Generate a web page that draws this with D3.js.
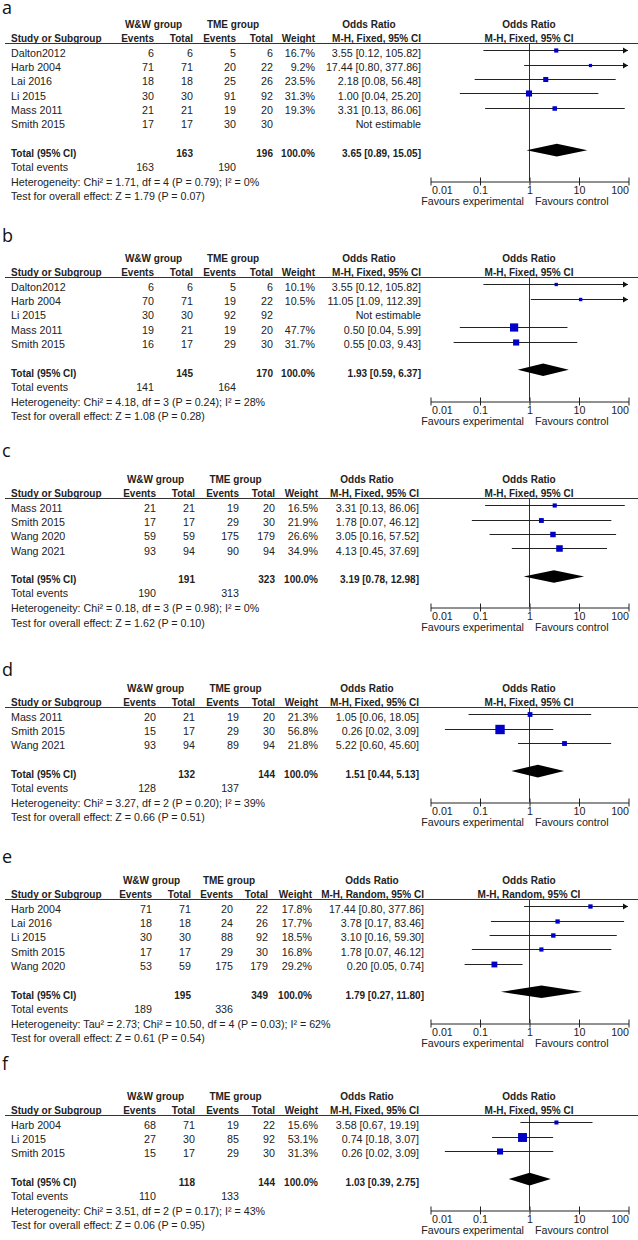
<!DOCTYPE html>
<html>
<head>
<meta charset="utf-8">
<script src="https://cdn.jsdelivr.net/npm/d3@7"></script>
<style>
  html, body { margin: 0; padding: 0; background: #fff; }
  svg { display: block; }
  .txt  { font-family: "Liberation Sans", Arial, sans-serif; font-size: 10.7px; fill: #222; }
  .bold { font-family: "Liberation Sans", Arial, sans-serif; font-size: 10px; font-weight: bold; fill: #222; }
  .letter { font-family: "Open Sans", "DejaVu Sans", sans-serif; font-size: 18px; fill: #111; }
</style>
</head>
<body>
<script>
// ── Data ──────────────────────────────────────────────────────────────────────

const panelLetters = ["a", "b", "c", "d", "e", "f"];
const methods = ["Fixed", "Fixed", "Fixed", "Fixed", "Random", "Fixed"];

const studies = [
  ["Dalton2012", "Harb 2004", "Lai 2016", "Li 2015", "Mass 2011", "Smith 2015"],
  ["Dalton2012", "Harb 2004", "Li 2015", "Mass 2011", "Smith 2015"],
  ["Mass 2011", "Smith 2015", "Wang 2020", "Wang 2021"],
  ["Mass 2011", "Smith 2015", "Wang 2021"],
  ["Harb 2004", "Lai 2016", "Li 2015", "Smith 2015", "Wang 2020"],
  ["Harb 2004", "Li 2015", "Smith 2015"]
];
const wwEvents = [
  [6, 71, 18, 30, 21, 17], [6, 70, 30, 19, 16], [21, 17, 59, 93],
  [20, 15, 93], [71, 18, 30, 17, 53], [68, 27, 15]
];
const wwTotals = [
  [6, 71, 18, 30, 21, 17], [6, 71, 30, 21, 17], [21, 17, 59, 94],
  [21, 17, 94], [71, 18, 30, 17, 59], [71, 30, 17]
];
const tmeEvents = [
  [5, 20, 25, 91, 19, 30], [5, 19, 92, 19, 29], [19, 29, 175, 90],
  [19, 29, 89], [20, 24, 88, 29, 175], [19, 85, 29]
];
const tmeTotals = [
  [6, 22, 26, 92, 20, 30], [6, 22, 92, 20, 30], [20, 30, 179, 94],
  [20, 30, 94], [22, 26, 92, 30, 179], [22, 92, 30]
];
// null = not estimable
const weights = [
  [16.7, 9.2, 23.5, 31.3, 19.3, null], [10.1, 10.5, null, 47.7, 31.7],
  [16.5, 21.9, 26.6, 34.9], [21.3, 56.8, 21.8],
  [17.8, 17.7, 18.5, 16.8, 29.2], [15.6, 53.1, 31.3]
];
const orEst = [
  [3.55, 17.44, 2.18, 1.00, 3.31, null], [3.55, 11.05, null, 0.50, 0.55],
  [3.31, 1.78, 3.05, 4.13], [1.05, 0.26, 5.22],
  [17.44, 3.78, 3.10, 1.78, 0.20], [3.58, 0.74, 0.26]
];
const orLow = [
  [0.12, 0.80, 0.08, 0.04, 0.13, null], [0.12, 1.09, null, 0.04, 0.03],
  [0.13, 0.07, 0.16, 0.45], [0.06, 0.02, 0.60],
  [0.80, 0.17, 0.16, 0.07, 0.05], [0.67, 0.18, 0.02]
];
const orHigh = [
  [105.82, 377.86, 56.48, 25.20, 86.06, null], [105.82, 112.39, null, 5.99, 9.43],
  [86.06, 46.12, 57.52, 37.69], [18.05, 3.09, 45.60],
  [377.86, 83.46, 59.30, 46.12, 0.74], [19.19, 3.07, 3.09]
];

const totalWW  = [163, 145, 191, 132, 195, 118];
const totalTME = [196, 170, 323, 144, 349, 144];
const pooledOR   = [3.65, 1.93, 3.19, 1.51, 1.79, 1.03];
const pooledLow  = [0.89, 0.59, 0.78, 0.44, 0.27, 0.39];
const pooledHigh = [15.05, 6.37, 12.98, 5.13, 11.80, 2.75];
const eventsWW  = [163, 141, 190, 128, 189, 110];
const eventsTME = [190, 164, 313, 137, 336, 133];
const heterogeneity = [
  "Heterogeneity: Chi² = 1.71, df = 4 (P = 0.79); I² = 0%",
  "Heterogeneity: Chi² = 4.18, df = 3 (P = 0.24); I² = 28%",
  "Heterogeneity: Chi² = 0.18, df = 3 (P = 0.98); I² = 0%",
  "Heterogeneity: Chi² = 3.27, df = 2 (P = 0.20); I² = 39%",
  "Heterogeneity: Tau² = 2.73; Chi² = 10.50, df = 4 (P = 0.03); I² = 62%",
  "Heterogeneity: Chi² = 3.51, df = 2 (P = 0.17); I² = 43%"
];
const overallEffect = [
  "Test for overall effect: Z = 1.79 (P = 0.07)",
  "Test for overall effect: Z = 1.08 (P = 0.28)",
  "Test for overall effect: Z = 1.62 (P = 0.10)",
  "Test for overall effect: Z = 0.66 (P = 0.51)",
  "Test for overall effect: Z = 0.61 (P = 0.54)",
  "Test for overall effect: Z = 0.06 (P = 0.95)"
];

const tickVals   = [0.01, 0.1, 1, 10, 100];
const tickLabels = ["0.01", "0.1", "1", "10", "100"];

// ── Layout ────────────────────────────────────────────────────────────────────

const W = 638, H = 1240;
const panelRule = [43, 277, 498, 707, 899, 1115];   // y of header underline
const letterY   = [14, 242, 457, 676, 863, 1070];
const ROW = 14.35;

// column right edges (panels c and e sit slightly differently in the source)
const baseCol = { wwE: 154, wwN: 193, tmeE: 236, tmeN: 273, weight: 315, or: 421 };
const colShift = [
  {}, {},
  { wwE: 2, wwN: 2, tmeE: 3, tmeN: 2, weight: 3, or: -2 },
  { wwE: 2, wwN: 2, tmeE: 3, tmeN: 2, weight: 3, or: -2 },
  { wwE: -2, wwN: -2, tmeE: -3, tmeN: -5, weight: -3, or: 3 },
  { wwE: 2, wwN: 2, tmeE: 3, tmeN: 2, weight: 3, or: -2 }
];
const STUDY_X = 11;

const x = d3.scaleLog().domain([0.01, 100]).range([430, 628]);
const boxSize = d3.scaleLinear().domain([0, 100]).range([2, 15]);

const svg = d3.select("body").append("svg")
  .attr("width", W).attr("height", H)
  .attr("viewBox", `0 0 ${W} ${H}`);

svg.append("rect").attr("width", W).attr("height", H).attr("fill", "#fff");

const fmt2 = d3.format(".2f");
const ciText = (e, l, h) => `${fmt2(e)} [${fmt2(l)}, ${fmt2(h)}]`;
const crisp = v => Math.round(v) + 0.5;

function txt(g, cls, xPos, yPos, s, anchor = "end") {
  return g.append("text").attr("class", cls)
    .attr("x", xPos).attr("y", yPos)
    .attr("text-anchor", anchor).text(s);
}

panelLetters.forEach((letter, p) => {
  const g = svg.append("g").attr("class", "panel-" + letter);
  const U = panelRule[p];
  const n = studies[p].length;
  const method = `M-H, ${methods[p]}, 95% CI`;
  const col = {};
  Object.keys(baseCol).forEach(k => { col[k] = baseCol[k] + (colShift[p][k] || 0); });

  svg.append("text").attr("class", "letter").attr("x", 2).attr("y", letterY[p]).text(letter);

  // header
  const h1 = U - 14.7, h2 = U - 1.5;
  txt(g, "bold", (col.wwE + col.wwN) / 2 - 20, h1, "W&W group", "middle");
  txt(g, "bold", (col.tmeE + col.tmeN) / 2 - 21.5, h1, "TME group", "middle");
  txt(g, "bold", col.or - 52, h1, "Odds Ratio", "middle");
  txt(g, "bold", x(1), h1, "Odds Ratio", "middle");
  txt(g, "bold", STUDY_X, h2, "Study or Subgroup", "start");
  txt(g, "bold", col.wwE, h2, "Events");
  txt(g, "bold", col.wwN, h2, "Total");
  txt(g, "bold", col.tmeE, h2, "Events");
  txt(g, "bold", col.tmeN, h2, "Total");
  txt(g, "bold", col.weight, h2, "Weight");
  txt(g, "bold", col.or, h2, method);
  txt(g, "bold", x(1), h2, method, "middle");

  g.append("line")
    .attr("x1", 5).attr("x2", W).attr("y1", crisp(U)).attr("y2", crisp(U))
    .attr("stroke", "#333").attr("stroke-width", 1);

  const base = i => U + 13.7 + ROW * i;
  const totalBase = base(n + 1);
  const axisY = Math.round(totalBase + 24);

  // null line at OR = 1
  g.append("line")
    .attr("x1", crisp(x(1))).attr("x2", crisp(x(1)))
    .attr("y1", U).attr("y2", axisY)
    .attr("stroke", "#333").attr("stroke-width", 1);

  // study rows
  studies[p].forEach((name, i) => {
    const b = base(i);
    txt(g, "txt", STUDY_X, b, name, "start");
    txt(g, "txt", col.wwE, b, wwEvents[p][i]);
    txt(g, "txt", col.wwN, b, wwTotals[p][i]);
    txt(g, "txt", col.tmeE, b, tmeEvents[p][i]);
    txt(g, "txt", col.tmeN, b, tmeTotals[p][i]);
    const w = weights[p][i];
    if (w == null) {
      txt(g, "txt", col.or, b, "Not estimable");
      return;
    }
    txt(g, "txt", col.weight, b, w.toFixed(1) + "%");
    txt(g, "txt", col.or, b, ciText(orEst[p][i], orLow[p][i], orHigh[p][i]));

    const my = crisp(b - 6.5);
    const hi = orHigh[p][i], lo = orLow[p][i];
    const x1 = x(Math.max(lo, 0.01)), x2 = x(Math.min(hi, 100));
    g.append("line")
      .attr("x1", x1).attr("x2", x2).attr("y1", my).attr("y2", my)
      .attr("stroke", "#222").attr("stroke-width", 1);
    if (hi > 100) {
      g.append("path")
        .attr("d", `M${x2},${my}L${x2 - 5},${my - 3}L${x2 - 5},${my + 3}Z`)
        .attr("fill", "#111");
    }
    const s = boxSize(w);
    g.append("rect")
      .attr("x", x(orEst[p][i]) - s / 2).attr("y", my - s / 2)
      .attr("width", s).attr("height", s)
      .attr("fill", "#0000c8");
  });

  // total row
  txt(g, "bold", STUDY_X, totalBase, "Total (95% CI)", "start");
  txt(g, "bold", col.wwN, totalBase, totalWW[p]);
  txt(g, "bold", col.tmeN, totalBase, totalTME[p]);
  txt(g, "bold", col.weight, totalBase, "100.0%");
  txt(g, "bold", col.or, totalBase, ciText(pooledOR[p], pooledLow[p], pooledHigh[p]));

  const dy = totalBase - 7, dh = 6.3;
  g.append("path")
    .attr("d", `M${x(pooledLow[p])},${dy}L${x(pooledOR[p])},${dy - dh}` +
               `L${x(pooledHigh[p])},${dy}L${x(pooledOR[p])},${dy + dh}Z`)
    .attr("fill", "#000");

  // footer
  txt(g, "txt", STUDY_X, totalBase + 14, "Total events", "start");
  txt(g, "txt", col.wwE, totalBase + 14, eventsWW[p]);
  txt(g, "txt", col.tmeE, totalBase + 14, eventsTME[p]);
  txt(g, "txt", STUDY_X, totalBase + 28.7, heterogeneity[p], "start");
  txt(g, "txt", STUDY_X, totalBase + 43.3, overallEffect[p], "start");

  // axis
  const axis = d3.axisBottom(x)
    .tickValues(tickVals)
    .tickFormat((d, i) => tickLabels[i])
    .tickSizeOuter(0);
  const ag = g.append("g")
    .attr("transform", `translate(0.5,${axisY + 0.5})`)
    .call(axis);
  ag.select(".domain").attr("stroke", "#222");
  ag.selectAll(".tick line").attr("y1", -4).attr("y2", 4).attr("stroke", "#222");
  ag.selectAll(".tick text")
    .attr("class", "txt")
    .attr("y", 12.5).attr("dy", null)
    .attr("text-anchor", (d, i) => i === 0 ? "start" : i === tickVals.length - 1 ? "end" : "middle")
    .attr("x", (d, i) => i === 0 ? 1 : 0);
  ag.attr("font-size", null).attr("font-family", null);

  txt(g, "txt", x(1) - 5, axisY + 24, "Favours experimental", "end");
  txt(g, "txt", x(1) + 6, axisY + 24, "Favours control", "start");
});
</script>
</body>
</html>
